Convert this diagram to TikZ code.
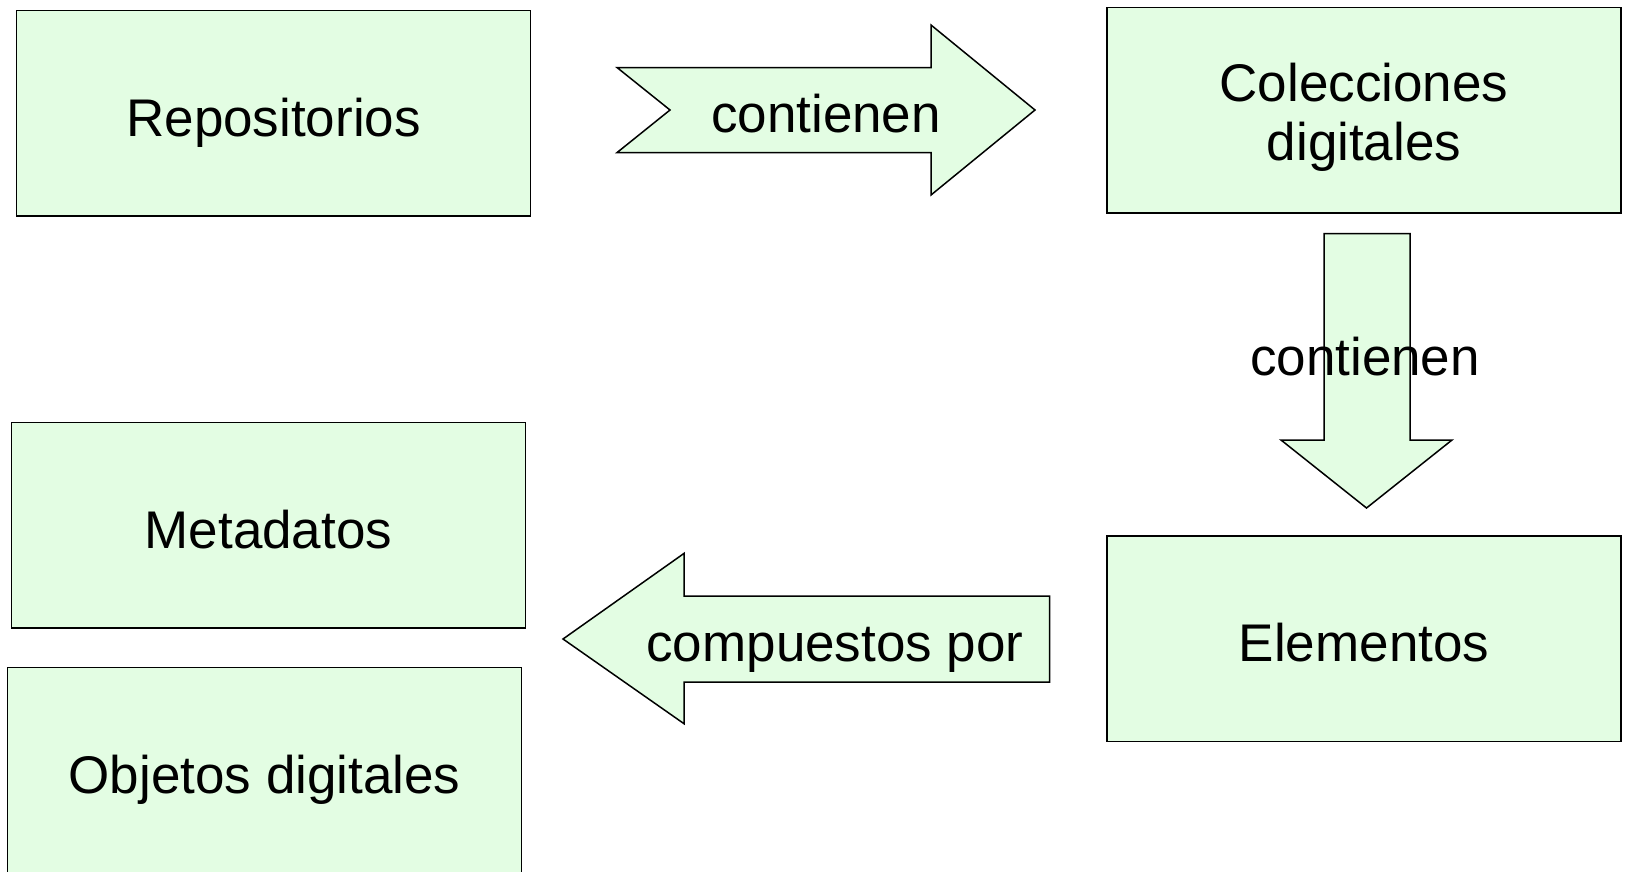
\documentclass[tikz,border=0pt]{standalone}
\usepackage{fontspec}
\setmainfont{Liberation Sans}
\definecolor{boxfill}{HTML}{E3FDE3}
\begin{document}
\begin{tikzpicture}[x=1pt,y=-1pt,
  box/.style={draw=black,line width=1.5pt,fill=boxfill,rectangle,inner sep=0pt,
    minimum width=514pt,minimum height=205.5pt,align=center,
    text height=46pt,text depth=0pt,
    font=\fontsize{53}{59}\selectfont},
  blk/.style={draw=black,line width=1.5pt,fill=boxfill,line join=miter},
  lbl/.style={inner sep=0pt,font=\fontsize{53}{59}\selectfont}]
\useasboundingbox (0,0) rectangle (1628,871);
\clip (0,0) rectangle (1628,871);
% boxes
\node[box] (repo) at (273.6,113.2) {Repositorios};
\node[box,text height=100pt] (colec) at (1364,110.2) {Colecciones\\digitales};
\node[box] (meta) at (268.4,525.3) {Metadatos};
\node[box] (elem) at (1364,638.5) {Elementos};
\node[box] (obj) at (264.6,770.4) {Objetos digitales};
% right arrow
\draw[blk] (617,67.5) -- (931,67.5) -- (931,25) -- (1035,110) -- (931,195) -- (931,152.6)
  -- (617,152.6) -- (670,110) -- cycle;
\node[lbl] (c1) at (826,114) {contienen};
% down arrow
\draw[blk] (1324,233.6) -- (1410,233.6) -- (1410,440) -- (1452,440) -- (1366.5,508)
  -- (1281,440) -- (1324,440) -- cycle;
\node[lbl] (c2) at (1365,357) {contienen};
% left arrow
\draw[blk] (563,639) -- (684,553.4) -- (684,596) -- (1049.7,596) -- (1049.7,682)
  -- (684,682) -- (684,723.7) -- cycle;
\node[lbl] (c3) at (835,650) {compuestos por};
\end{tikzpicture}
\end{document}
